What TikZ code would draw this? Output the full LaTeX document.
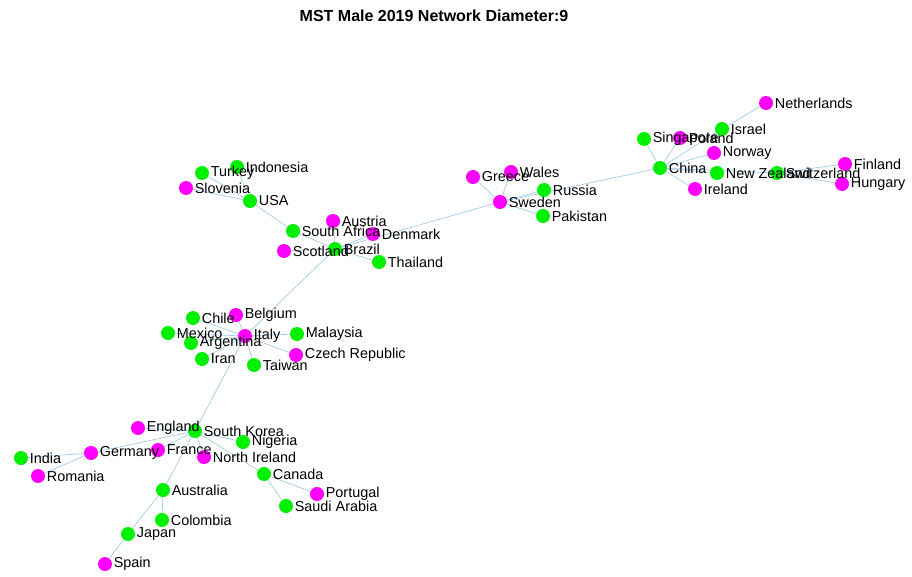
\documentclass[tikz,border=0pt]{standalone}
\usepackage{fontspec}
\setmainfont{Liberation Sans}
\usetikzlibrary{backgrounds}

\definecolor{gcol}{RGB}{0,240,0}
\definecolor{mcol}{RGB}{255,0,255}
\definecolor{ecol}{RGB}{158,202,230}

\begin{document}
\begin{tikzpicture}[x=0.75pt,y=-0.75pt,
        every node/.style={font=\fontsize{10.8}{12}\selectfont},
        country/.style={circle,minimum size=10.5pt,inner sep=0pt,fill=#1},
        countrylab/.style={anchor=west,inner sep=1pt},
        mstedge/.style={draw=ecol,line width=0.5pt}]
        \useasboundingbox (0,0) rectangle (912,577);
        \node[font=\bfseries\fontsize{12}{14}\selectfont] (title) at (434,16) {MST Male 2019 Network Diameter:9};
        % countries: name/x/y/colour/label
        \def\countries{nl/766/103/mcol/Netherlands, il/722/129/gcol/Israel,
                sg/644/139/gcol/Singapore, pl/680/138/mcol/Poland, no/714/153/mcol/Norway,
                cn/660/168/gcol/China, nz/717/173/gcol/New Zealand, ch/777/173/gcol/Switzerland,
                fi/845/164/mcol/Finland, hu/842/184/mcol/Hungary, ie/695/189/mcol/Ireland,
                gr/473/177/mcol/Greece, wa/511/172/mcol/Wales, se/500/202/mcol/Sweden,
                ru/544/190/gcol/Russia, pk/543/216/gcol/Pakistan,
                id/237/167/gcol/Indonesia, tr/202/173/gcol/Turkey, si/186/188/mcol/Slovenia,
                us/250/201/gcol/USA, at/333/221/mcol/Austria, za/293/231/gcol/South Africa,
                dk/373/234/mcol/Denmark, sc/284/251/mcol/Scotland, br/335/249/gcol/Brazil,
                th/379/262/gcol/Thailand,
                cl/193/318/gcol/Chile, be/236/315/mcol/Belgium, mx/168/333/gcol/Mexico,
                ar/191/343/gcol/Argentina, it/245/336/mcol/Italy, my/297/334/gcol/Malaysia,
                cz/296/355/mcol/Czech Republic, ir/202/359/gcol/Iran, tw/254/365/gcol/Taiwan,
                en/138/428/mcol/England, kr/195/431/gcol/South Korea, ng/243/442/gcol/Nigeria,
                fr/158/450/mcol/France, de/91/453/mcol/Germany, ni/204/457/mcol/North Ireland,
                in/21/458/gcol/India, ro/38/476/mcol/Romania, ca/264/474/gcol/Canada,
                au/163/490/gcol/Australia, pt/317/494/mcol/Portugal, sa/286/506/gcol/Saudi Arabia,
                co/162/520/gcol/Colombia, jp/128/534/gcol/Japan, es/105/564/mcol/Spain}
        \foreach \n/\x/\y/\c/\t in \countries
                \node[country=\c] (\n) at (\x,\y) {};
        \begin{scope}[on background layer]
        \path[mstedge]
                (br) edge (za) edge (at) edge (dk) edge (sc) edge (th) edge (it) edge (se)
                (za) edge (us)
                (us) edge (si) edge (tr) edge (id)
                (se) edge (gr) edge (wa) edge (ru) edge (pk) edge (cn)
                (cn) edge (sg) edge (pl) edge (il) edge (no) edge (nz) edge (ch) edge (ie)
                (il) edge (nl)
                (ch) edge (fi) edge (hu)
                (it) edge (be) edge (cl) edge (mx) edge (ar) edge (ir) edge (tw) edge (my) edge (cz) edge (kr)
                (kr) edge (en) edge (de) edge (fr) edge (ni) edge (ng) edge (ca) edge (au)
                (de) edge (in) edge (ro)
                (ca) edge (pt) edge (sa)
                (au) edge (co) edge (jp)
                (jp) edge (es);
        \end{scope}
        % labels on top of every circle
        \foreach \n/\x/\y/\c/\t in \countries
                \node[countrylab] (\n-lab) at (\n.east) {\t};
\end{tikzpicture}
\end{document}
